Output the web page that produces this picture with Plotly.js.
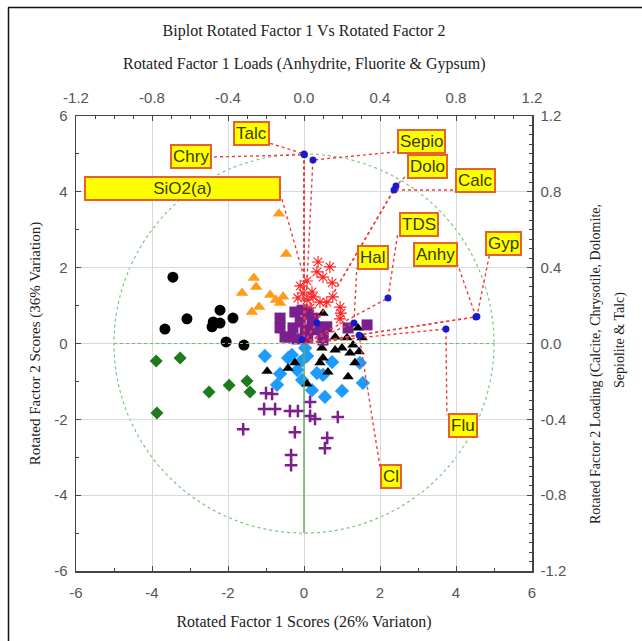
<!DOCTYPE html>
<html>
<head>
<meta charset="utf-8">
<script src="https://cdn.plot.ly/plotly-3.0.1.min.js"></script>
<style>html,body{margin:0;padding:0;background:#fff;}#chart{width:642px;height:641px;}</style>
</head>
<body>
<div id="chart"></div>
<script>
// ---------- DATA (scores: Rotated Factor 1 / Factor 2) ----------
const blackCircleX = [-3.45, -3.08, -3.66, -2.21, -2.39, -2.21, -2.42, -1.87, -2.05, -1.58];
const blackCircleY = [1.75, 0.65, 0.38, 0.88, 0.57, 0.54, 0.44, 0.67, 0.04, -0.04];

const orangeTriX = [-0.66, -0.47, -1.32, -1.26, -1.63, -0.89, -0.74, -0.55, -1.18, -1.37, -0.63];
const orangeTriY = [3.42, 2.36, 1.73, 1.49, 1.33, 1.28, 1.15, 1.23, 0.96, 0.83, 1.07];

const greenDiaX = [-3.89, -3.26, -3.87, -2.5, -1.97, -1.5, -1.42];
const greenDiaY = [-0.46, -0.38, -1.83, -1.28, -1.1, -0.99, -1.28];

const purpleCrossX = [-1.0, -0.84, -1.05, -0.76, -0.37, -0.16, 0.16, 0.16, 0.29, 0.89, -0.24, 0.61, 0.55, -0.34, -0.34, -1.6];
const purpleCrossY = [-1.31, -1.33, -1.73, -1.73, -1.78, -1.78, -1.54, -1.91, -1.99, -1.94, -2.34, -2.49, -2.76, -2.94, -3.21, -2.26];

const blueDiaX = [-1.03, -0.42, -0.63, -0.71, -0.32, -0.1, 0.08, -0.05, 0.21, 0.55, 1.0, 1.55, 1.47, 0.34, 0.5, 0.74, -0.18, 0.03];
const blueDiaY = [-0.33, -0.38, -0.8, -1.09, -0.3, -0.49, -0.33, -0.96, -1.23, -1.41, -1.25, -1.04, -0.51, -0.78, -0.83, -0.49, -0.7, -0.12];

const blackTriX = [0.47, 0.5, 0.82, 1.0, 1.21, 1.29, 1.45, 1.34, 1.16, 0.63, 0.42, -0.24, -0.97, 0.08, 1.42, 0.5, 0.5, 0.82, 1.13, 1.53, -0.42];
const blackTriY = [-0.12, -0.38, -0.17, -0.12, -0.25, -0.04, -0.22, -0.51, -0.88, -0.75, -0.51, -0.51, -0.73, -1.07, 0.41, 0.8, 0.15, 0.17, 0.15, 0.15, -0.65];

const redStarX = [0.37, 0.68, 0.34, 0.5, 0.74, 0.08, -0.1, -0.03, -0.16, 0.21, 0.76, 0.42, 0.95, 0.97, 0.95, 0.16, 0.08, 0.6, 0.24];
const redStarY = [2.15, 2.02, 1.89, 1.75, 1.6, 1.65, 1.52, 1.33, 1.2, 1.36, 1.23, 1.09, 0.96, 0.8, 0.65, 0.94, 1.15, 1.09, 1.23];

const purpleSqX = [-0.63, -0.63, -0.5, -0.24, -0.05, 0.1, 0.24, -0.1, -0.29, 0.03, 0.24, -0.37, -0.18, 0.42, 0.6, 1.16, 1.66, 0.1, 0.5, 0.21, 0.34, 0.5];
const purpleSqY = [0.67, 0.41, 0.17, 0.83, 0.88, 0.78, 0.67, 0.57, 0.41, 0.36, 0.36, 0.17, 0.12, 0.41, 0.44, 0.41, 0.49, 0.15, 0.22, 0.54, 0.44, 0.09];

// ---------- DATA (loadings) ----------
const loadNames = ['Talc', 'Chry', 'SiO2(a)', 'Sepio', 'Dolo', 'Calc', 'TDS', 'Hal', 'Anhy', 'Gyp', 'Flu', 'Cl'];
const loadX = [0.0, 0.002, 0.068, 0.047, 0.484, 0.474, 0.442, 0.263, 0.905, 0.91, 0.747, 0.29];
const loadY = [1.0, 0.995, 0.108, 0.968, 0.831, 0.81, 0.24, 0.108, 0.14, 0.142, 0.077, 0.044];
const extraLoadX = [-0.01];
const extraLoadY = [0.02];

// label box centres and connector anchor points (loading units)
const labelX = [-0.274, -0.594, -0.64, 0.616, 0.652, 0.9, 0.606, 0.364, 0.694, 1.048, 0.836, 0.458];
const labelY = [1.11, 0.984, 0.816, 1.064, 0.936, 0.858, 0.63, 0.452, 0.472, 0.53, -0.43, -0.704];
const anchorX = [-0.178, -0.478, -0.116, 0.478, 0.542, 0.784, 0.494, 0.278, 0.81, 0.978, 0.752, 0.4];
const anchorY = [1.056, 0.984, 0.762, 1.01, 0.89, 0.81, 0.584, 0.398, 0.414, 0.478, -0.378, -0.652];
const circleRadius = 1.0;

// ---------- TICKS ----------
const scoreTicks = [-6, -4, -2, 0, 2, 4, 6];
const scoreTickText = ['-6', '-4', '-2', '0', '2', '4', '6'];
const loadTicks = [-1.2, -0.8, -0.4, 0, 0.4, 0.8, 1.2];
const loadTickText = ['-1.2', '-0.8', '-0.4', '0.0', '0.4', '0.8', '1.2'];

// ---------- BUILD ----------
const W = 642, H = 641, L = 76, R = 110, T = 116, B = 70;
const pw = W - L - R, ph = H - T - B;
const pX = px => (px - L) / pw;
const pY = py => (H - B - py) / ph;

const traces = [];
function sc(x, y, sym, color, size, extra) {
  const m = Object.assign({symbol: sym, color: color, size: size, line: {width: 0}}, extra || {});
  traces.push({type: 'scatter', mode: 'markers', x: x, y: y, marker: m, xaxis: 'x', yaxis: 'y', hoverinfo: 'skip', cliponaxis: false});
}
sc(blackCircleX, blackCircleY, 'circle', '#000000', 11);
sc(orangeTriX, orangeTriY, 'triangle-up', '#ff9a1a', 11);
sc(greenDiaX, greenDiaY, 'diamond', '#1d7a1d', 10);
sc(purpleCrossX, purpleCrossY, 'cross-thin-open', '#7a1f8c', 9, {line: {width: 2.5, color: '#7a1f8c'}});
sc(blueDiaX, blueDiaY, 'diamond', '#1e9bff', 11);
sc(blackTriX, blackTriY, 'triangle-up', '#000000', 10);
sc(redStarX, redStarY, 'asterisk-open', '#ff2020', 10, {line: {width: 1.1, color: '#ff2020'}});
sc(purpleSqX, purpleSqY, 'square', '#7b1f8e', 11);

// reference lines (loading axes)
traces.push({type: 'scatter', mode: 'lines', x: [-circleRadius, circleRadius], y: [0, 0], xaxis: 'x2', yaxis: 'y2',
  line: {color: '#6fbf6f', width: 1.2, dash: 'dot'}, hoverinfo: 'skip'});
traces.push({type: 'scatter', mode: 'lines', x: [0, 0], y: [-circleRadius, 0], xaxis: 'x2', yaxis: 'y2',
  line: {color: '#5fae5f', width: 1.5}, hoverinfo: 'skip'});
traces.push({type: 'scatter', mode: 'lines', x: [0, 0], y: [0, circleRadius], xaxis: 'x2', yaxis: 'y2',
  line: {color: '#2f4f2f', width: 1.5, dash: 'dot'}, hoverinfo: 'skip'});

// loading vectors and connectors
const vx = [], vy = [];
for (let i = 0; i < loadNames.length; i++) {
  vx.push(0, loadX[i], anchorX[i], null);
  vy.push(0, loadY[i], anchorY[i], null);
}
traces.push({type: 'scatter', mode: 'lines', x: vx, y: vy, xaxis: 'x2', yaxis: 'y2',
  line: {color: '#f03c3c', width: 1.4, dash: 'dot'}, hoverinfo: 'skip', cliponaxis: false});
traces.push({type: 'scatter', mode: 'markers', x: loadX.concat(extraLoadX), y: loadY.concat(extraLoadY), xaxis: 'x2', yaxis: 'y2',
  marker: {color: '#1a1acc', size: 7}, hoverinfo: 'skip'});

const annotations = loadNames.map((n, i) => {
  const a = {xref: 'x2', yref: 'y2', x: labelX[i], y: labelY[i], text: n, showarrow: false,
    bgcolor: '#ffff00', bordercolor: '#e8602c', borderwidth: 2, borderpad: 1,
    font: {family: 'Liberation Sans, Arial, sans-serif', size: 17, color: '#3a3a00'}};
  if (n === 'SiO2(a)') { a.width = 191; }
  return a;
});

const tickFont = {family: 'Liberation Sans, Arial, sans-serif', size: 15, color: '#555555'};
const titleFont = {family: 'Liberation Serif, Times New Roman, serif', size: 16, color: '#222222'};
const vTitleFont = {family: 'Liberation Serif, Times New Roman, serif', size: 15, color: '#222222'};
const rTitleFont = {family: 'Liberation Serif, Times New Roman, serif', size: 14, color: '#222222'};

// top (loading) axis title
annotations.push({xref: 'paper', yref: 'paper', x: 0.5, y: pY(64), text: 'Rotated Factor 1 Loads (Anhydrite, Fluorite & Gypsum)',
  showarrow: false, xanchor: 'center', yanchor: 'middle', font: titleFont});
// right-hand (loading) axis title, two lines
['Rotated Factor 2 Loading (Calcite, Chrysotile, Dolomite,', 'Sepiolite & Talc)'].forEach((t, i) => {
  annotations.push({xref: 'paper', yref: 'paper', x: pX(i === 0 ? 596 : 620), y: pY(i === 0 ? 364 : 340),
    text: t, showarrow: false, textangle: -90, xanchor: 'center', yanchor: 'middle', font: rTitleFont});
});

const axBase = {showline: true, linecolor: '#444444', linewidth: 1.5, ticks: 'inside', ticklen: 5, tickcolor: '#444444',
  tickfont: tickFont, zeroline: false, fixedrange: true, tickmode: 'array'};

const layout = {
  width: W, height: H,
  margin: {l: L, r: R, t: T, b: B},
  paper_bgcolor: '#ffffff', plot_bgcolor: '#ffffff',
  showlegend: false,
  title: {text: 'Biplot Rotated Factor 1 Vs Rotated Factor 2', font: titleFont, x: 0.5, xref: 'paper', xanchor: 'center',
    y: 1 - 30 / H, yref: 'container', yanchor: 'middle'},
  xaxis: Object.assign({}, axBase, {range: [-6, 6], tickvals: scoreTicks, ticktext: scoreTickText, ticklabelstandoff: 7,
    showgrid: true, gridcolor: '#d9d9d9', gridwidth: 1,
    minor: {tickmode: 'linear', tick0: 0, dtick: 1, ticks: 'inside', ticklen: 3, tickcolor: '#444444', showgrid: false},
    title: {text: 'Rotated Factor 1 Scores (26% Variaton)', font: titleFont, standoff: 16}}),
  yaxis: Object.assign({}, axBase, {range: [-6, 6], tickvals: scoreTicks, ticktext: scoreTickText, ticklabelstandoff: 4,
    showgrid: true, gridcolor: '#d9d9d9', gridwidth: 1,
    minor: {tickmode: 'linear', tick0: 0, dtick: 1, ticks: 'inside', ticklen: 3, tickcolor: '#444444', showgrid: false},
    title: {text: 'Rotated Factor 2 Scores (36% Variation)', font: vTitleFont, standoff: 10}}),
  xaxis2: Object.assign({}, axBase, {overlaying: 'x', side: 'top', anchor: 'y', range: [-1.2, 1.2], tickvals: loadTicks, ticktext: loadTickText,
    ticklabelstandoff: 6, showgrid: false,
    minor: {tickmode: 'linear', tick0: 0, dtick: 0.1, ticks: 'inside', ticklen: 3, tickcolor: '#444444', showgrid: false}}),
  yaxis2: Object.assign({}, axBase, {overlaying: 'y', side: 'right', anchor: 'x', range: [-1.2, 1.2], tickvals: loadTicks, ticktext: loadTickText,
    ticklabelstandoff: 4, showgrid: false,
    minor: {tickmode: 'linear', tick0: 0, dtick: 0.05, ticks: 'inside', ticklen: 3, tickcolor: '#444444', showgrid: false}}),
  shapes: [
    {type: 'circle', xref: 'x2', yref: 'y2', x0: -circleRadius, x1: circleRadius, y0: -circleRadius, y1: circleRadius,
      line: {color: '#7fc47f', width: 1.2, dash: 'dot'}, layer: 'below'},
    {type: 'line', xref: 'paper', yref: 'paper', x0: pX(8), x1: pX(642), y0: pY(7.5), y1: pY(7.5), line: {color: '#111111', width: 1.5}},
    {type: 'line', xref: 'paper', yref: 'paper', x0: pX(8.5), x1: pX(8.5), y0: pY(7.5), y1: pY(641), line: {color: '#111111', width: 1.5}}
  ],
  annotations: annotations
};

Plotly.newPlot('chart', traces, layout, {staticPlot: true, displayModeBar: false});
</script>
</body>
</html>
